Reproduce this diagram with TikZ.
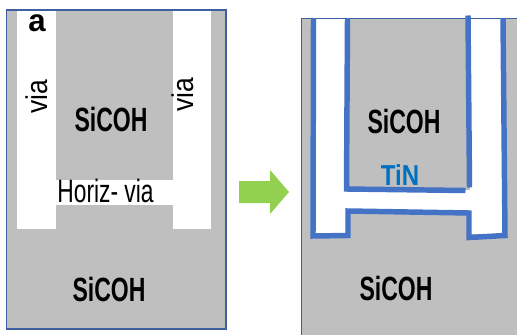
\documentclass[tikz,border=0pt]{standalone}
\usepackage{fontspec}
\setmainfont{Liberation Sans}
\definecolor{sicoh}{RGB}{191,191,191}
\definecolor{frameblue}{RGB}{62,96,160}
\definecolor{tinline}{RGB}{68,114,196}
\definecolor{tintext}{RGB}{0,112,192}
\definecolor{arrowgreen}{RGB}{146,208,80}
\tikzset{
  px/.style={x=0.75pt,y=-0.75pt},
  hole/.style={fill=white,draw=none},
  liner/.style={draw=tinline,line width=4.1pt,line join=miter},
  bold lbl/.style={font=\fontsize{18}{18}\selectfont\bfseries,text=black,inner sep=0pt},
  thin lbl/.style={font=\fontsize{18}{18}\selectfont,text=black,inner sep=0pt},
  material lbl/.style={bold lbl,xscale=0.96,yscale=1.4},
}
\begin{document}
\begin{tikzpicture}[px]
\useasboundingbox (0,0) rectangle (517,335);
% left panel
\fill[sicoh] (6.5,10) rectangle (226,329);
\fill[hole] (17,10) rectangle (56,229);
\fill[hole] (173,10) rectangle (211,229);
\fill[hole] (56,180) rectangle (173,205);
\draw[frameblue,line width=1pt] (6.5,10) rectangle (226,329);
\node[bold lbl,scale=1.3] (a) at (37,23) {a};
\node[thin lbl,rotate=90,yscale=1.25,xscale=1.1] (v1) at (36.5,97) {via};
\node[thin lbl,rotate=90,yscale=1.25,xscale=1.1] (v2) at (183,95) {via};
\node[material lbl] (s1) at (111,119) {SiCOH};
\node[material lbl] (s2) at (109,289) {SiCOH};
\node[thin lbl,xscale=0.95,yscale=1.35] (hv) at (105.5,191) {Horiz- via};
% arrow
\fill[arrowgreen] (239,181) -- (270,181) -- (270,170) -- (289,192) -- (270,214) -- (270,203) -- (239,203) -- cycle;
% right panel
\fill[sicoh] (301,18) rectangle (517,335);
\fill[hole] (315,18) rectangle (346,234);
\fill[hole] (470,18) rectangle (503,234);
\fill[hole] (346,190) rectangle (470,211);
\fill[sicoh] (346,211) rectangle (469,236);
\draw[frameblue,line width=0.7pt] (517,18) -- (301,18) -- (301,335);
\draw[liner] (313.5,18) -- (313,236) -- (348,235.5) -- (348,211) -- (469,213) -- (469,237.5) -- (505,235.5) -- (503,18);
\draw[liner] (347.5,18) -- (346.5,189) -- (465.5,190.5);
\draw[liner] (468,15.5) -- (469.5,187.5);
\node[material lbl] (s3) at (404,121) {SiCOH};
\node[material lbl] (s4) at (396,288) {SiCOH};
\node[bold lbl,text=tintext,yscale=1.2] (tin) at (400,175.5) {TiN};
\end{tikzpicture}
\end{document}
